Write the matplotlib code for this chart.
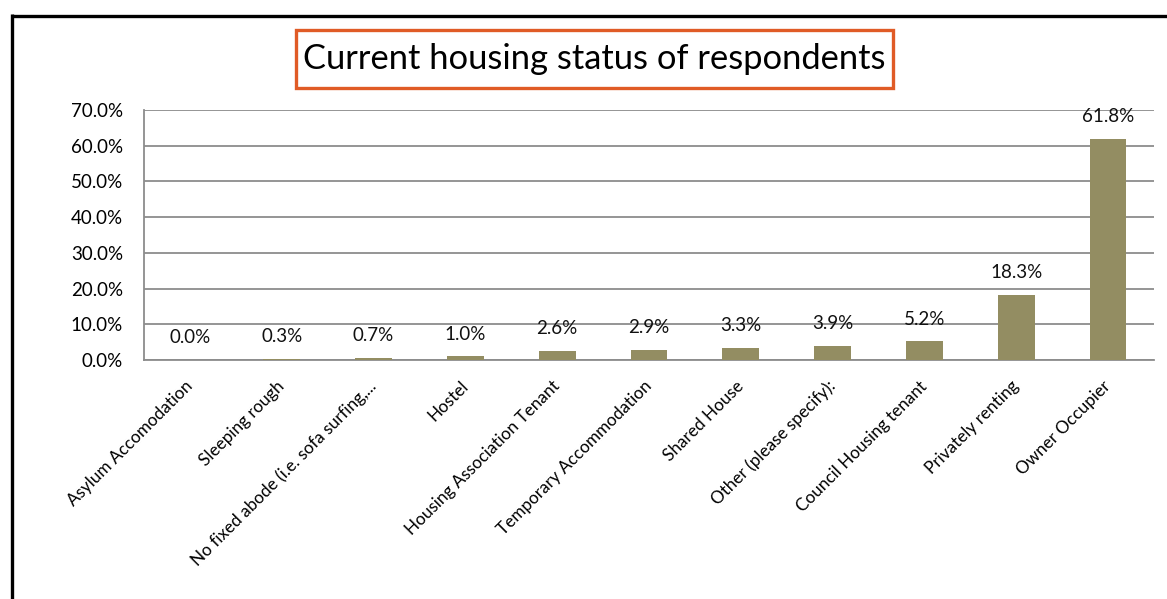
import matplotlib.pyplot as plt
from matplotlib.patches import Rectangle
from matplotlib.lines import Line2D

categories = [
    "Asylum Accomodation",
    "Sleeping rough",
    "No fixed abode (i.e. sofa surfing,...",
    "Hostel",
    "Housing Association Tenant",
    "Temporary Accommodation",
    "Shared House",
    "Other (please specify):",
    "Council Housing tenant",
    "Privately renting",
    "Owner Occupier",
]
shares = [0.0, 0.3, 0.7, 1.0, 2.6, 2.9, 3.3, 3.9, 5.2, 18.3, 61.8]
y_ticks = [0, 10, 20, 30, 40, 50, 60, 70]

plt.rcParams['font.family'] = ['Lato', 'DejaVu Sans']

W, H = 1167, 599
fig = plt.figure(figsize=(W / 100, H / 100), dpi=100)

# plot area in pixel terms
left, right, top, bottom = 144, 1154, 110, 360
ax = fig.add_axes([left / W, 1 - bottom / H, (right - left) / W, (bottom - top) / H])

x = range(len(categories))
bars = ax.bar(x, shares, width=0.4, color='#938D62', zorder=3)

for b, v in zip(bars, shares):
    ax.annotate(f"{v:.1f}%", (b.get_x() + b.get_width() / 2, v),
                xytext=(0, 10), textcoords='offset points',
                ha='center', va='bottom', fontsize=13.5, color='#111111')

ax.set_xlim(-0.5, len(categories) - 0.5)
ax.set_ylim(0, 70)
ax.set_yticks(y_ticks)
ax.set_yticklabels([f"{t:.1f}%" for t in y_ticks], fontsize=13.5)
ax.yaxis.grid(True, color='#8C8C8C', linewidth=1.3, zorder=0)
ax.set_xticks(list(x))
ax.set_xticklabels(categories, rotation=45, ha='right', va='center',
                   rotation_mode='anchor', fontsize=12.3)
ax.tick_params(axis='both', length=0)
ax.tick_params(axis='x', pad=17)
ax.tick_params(axis='y', pad=15)

for side in ['top', 'right']:
    ax.spines[side].set_visible(False)
for side in ['left', 'bottom']:
    ax.spines[side].set_color('#8C8C8C')
    ax.spines[side].set_linewidth(1.3)

# outer frame (top and left edges)
fig.add_artist(Line2D([11.5 / W, 1.0], [1 - 15.5 / H] * 2, color='black', lw=2.4,
                      transform=fig.transFigure, solid_capstyle='butt'))
fig.add_artist(Line2D([11.5 / W] * 2, [0.0, 1 - 14.3 / H], color='black', lw=2.4,
                      transform=fig.transFigure, solid_capstyle='butt'))

# title in an orange box
bx0, bx1, by0, by1 = 296, 893, 30, 88
fig.add_artist(Rectangle((bx0 / W, 1 - by1 / H), (bx1 - bx0) / W, (by1 - by0) / H,
                         transform=fig.transFigure, fill=False,
                         edgecolor='#E05B26', linewidth=2.4))
fig.text((bx0 + bx1) / 2 / W, 1 - (by0 + by1) / 2 / H, "Current housing status of respondents",
         ha='center', va='center', fontsize=24.8, color='black')

fig.savefig('out.png', dpi=100)
